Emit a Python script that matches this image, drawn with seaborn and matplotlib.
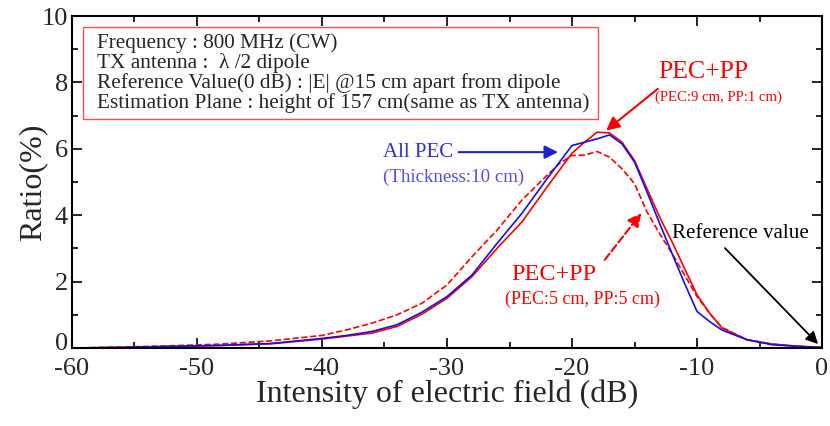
# distribution of electric field intensity ratio for three shield types

import numpy as np
import pandas as pd
import matplotlib
matplotlib.use("Agg")
import matplotlib.pyplot as plt
import matplotlib.transforms as mtransforms
import seaborn as sns

# data
db = [-60, -56, -52, -48, -44, -40, -38, -36, -34, -32, -30, -28, -26, -24,
      -22, -21, -20, -19, -18, -17, -16, -15, -14, -13, -12, -11, -10, -9,
      -8, -6, -4, -2, 0]
all_pec = [0.0, 0.02, 0.05, 0.08, 0.14, 0.29, 0.38, 0.50, 0.70, 1.08, 1.55,
           2.20, 3.15, 4.06, 5.10, 5.60, 6.10, 6.20, 6.30, 6.42, 6.15, 5.60,
           4.70, 3.76, 2.85, 1.95, 1.10, 0.80, 0.54, 0.25, 0.10, 0.05, 0.01]
pec_pp_9_1 = [0.0, 0.02, 0.05, 0.08, 0.13, 0.27, 0.36, 0.45, 0.65, 1.02, 1.50,
              2.15, 3.00, 3.80, 4.85, 5.36, 5.87, 6.20, 6.50, 6.48, 6.20, 5.65,
              4.80, 3.95, 3.20, 2.40, 1.60, 1.05, 0.60, 0.25, 0.12, 0.06, 0.02]
pec_pp_5_5 = [0.0, 0.03, 0.07, 0.12, 0.22, 0.38, 0.55, 0.75, 1.00, 1.35, 1.90,
              2.75, 3.55, 4.46, 5.20, 5.56, 5.80, 5.81, 5.92, 5.75, 5.40, 4.95,
              4.10, 3.45, 2.85, 2.20, 1.55, 1.05, 0.62, 0.25, 0.12, 0.05, 0.02]

info_lines = ["Frequency : 800 MHz (CW)",
              "TX antenna :  \u03bb /2 dipole",
              "Reference Value(0 dB) : |E| @15 cm apart from dipole",
              "Estimation Plane : height of 157 cm(same as TX antenna)"]

sns.set_style("ticks")
plt.rcParams["font.family"] = ["Liberation Serif", "DejaVu Serif"]
plt.rcParams["axes.unicode_minus"] = False

fig = plt.figure(figsize=(8.30, 4.26), dpi=100)
ax = fig.add_axes([0.0867, 0.183, 0.9037, 0.7794])

sns.lineplot(x=db, y=pec_pp_5_5, ax=ax, color="red", linestyle="--", linewidth=1.2)
sns.lineplot(x=db, y=pec_pp_9_1, ax=ax, color="red", linewidth=1.2)
sns.lineplot(x=db, y=all_pec, ax=ax, color="#1010ee", linewidth=1.2)

ax.set_xlim(-60, 0)
ax.set_ylim(0, 10)
ax.set_xticks(range(-60, 1, 10))
ax.set_xticks(range(-55, 0, 10), minor=True)
ax.set_yticks(range(0, 11, 2))
ax.set_yticks(range(1, 10, 2), minor=True)
ax.tick_params(which="both", direction="in", top=True, right=True,
               labelsize=19, width=1.2, color="black")
ax.tick_params(which="major", length=7)
ax.tick_params(which="minor", length=4)
ax.tick_params(axis="x", pad=7)
ax.tick_params(axis="y", pad=3)
for s in ax.spines.values():
    s.set_linewidth(1.5)
    s.set_color("black")
ax.set_xlabel("Intensity of electric field (dB)", fontsize=23, labelpad=0)
ax.set_ylabel("Ratio(%)", fontsize=23, labelpad=-4)

# nudge the y "0" label up a little so it clears the "-60" below it
lab0 = ax.yaxis.get_major_ticks()[0].label1
lab0.set_transform(lab0.get_transform()
                   + mtransforms.ScaledTranslation(0, 5 / 72, fig.dpi_scale_trans))

# info box
rect = plt.Rectangle((-59.1, 6.9), 41.2, 2.77, fill=False, edgecolor="#ff4d4d",
                     linewidth=1.0)
ax.add_patch(rect)
for i, line in enumerate(info_lines):
    ax.text(-58.0, 9.19 - 0.6 * i, line, fontsize=15.3, va="center", ha="left")

# All PEC
ax.text(-35.1, 5.9, "All PEC", fontsize=15, color="#3030dd", va="center", ha="left")
ax.text(-35.1, 5.15, "(Thickness:10 cm)", fontsize=13.6, color="#5050dd",
        va="center", ha="left")
ax.annotate("", xy=(-20.9, 5.9), xytext=(-29.3, 5.9),
            arrowprops=dict(arrowstyle="-|>", color="#2020cc", lw=1.5,
                            mutation_scale=20))

# PEC+PP 9/1
ax.text(-13.12, 8.31, "PEC+PP", fontsize=18.5, color="red", va="center", ha="left")
ax.text(-13.36, 7.56, "(PEC:9 cm, PP:1 cm)", fontsize=10.6, color="red",
        va="center", ha="left")
ax.annotate("", xy=(-17.44, 6.5), xytext=(-12.96, 7.86),
            arrowprops=dict(arrowstyle="-|>", color="red", lw=1.5,
                            mutation_scale=20))

# PEC+PP 5/5
ax.text(-24.88, 2.23, "PEC+PP", fontsize=17.5, color="red", va="center", ha="left")
ax.text(-25.36, 1.48, "(PEC:5 cm, PP:5 cm)", fontsize=13, color="red",
        va="center", ha="left")
ax.annotate("", xy=(-14.32, 4.13), xytext=(-17.52, 2.59),
            arrowprops=dict(arrowstyle="-|>", color="red", lw=1.5,
                            linestyle="--", mutation_scale=20))

# reference value
ax.text(-6.56, 3.46, "Reference value", fontsize=15.1, color="black",
        va="center", ha="center")
ax.annotate("", xy=(-0.16, 0.06), xytext=(-7.92, 3.07),
            arrowprops=dict(arrowstyle="-|>", color="black", lw=1.3,
                            mutation_scale=18))

fig.savefig("out.png", dpi=100)
